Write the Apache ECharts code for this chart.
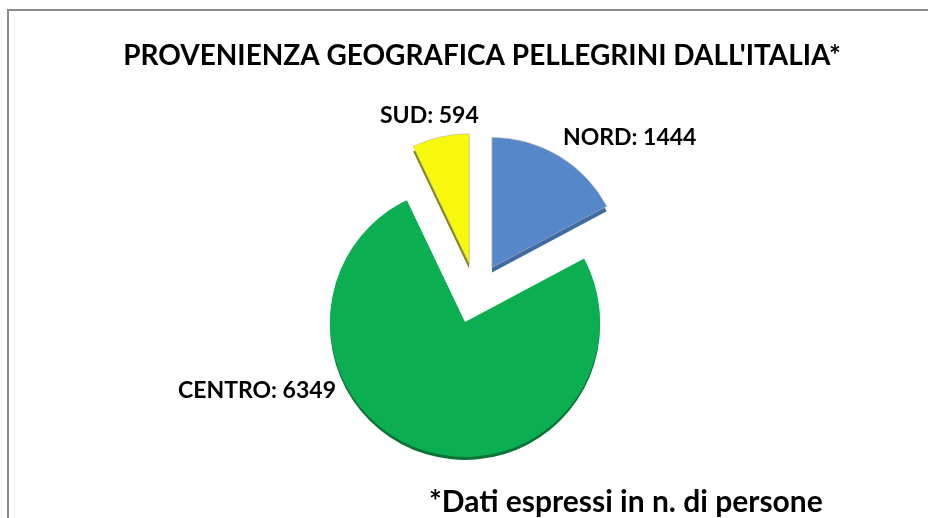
<!DOCTYPE html>
<html>
<head>
<meta charset="utf-8">
<style>
    html, body { margin: 0; padding: 0; background: #fff; }
    #main { width: 928px; height: 518px; }
</style>
<script src="https://cdn.jsdelivr.net/npm/echarts@6/dist/echarts.min.js"></script>
</head>
<body>
<div id="main"></div>
<script>
var categories = ['NORD', 'CENTRO', 'SUD'];
var values = [1444, 6349, 594];
var topColors = ['#5587ca', '#0bae50', '#f8f80c'];
var rimColors = ['#3f6aa3', '#0a7436', '#85850a'];

var fontName = 'Lato';
// posizioni delle etichette
var labelPos = [
    { x: 563, y: 138 },
    { x: 178, y: 391 },
    { x: 380, y: 116 }
];

// una serie per gruppo: le fette non in gruppo restano trasparenti
function slices(colors, group, border) {
    return categories.map(function (name, i) {
        var on = group.indexOf(i) >= 0;
        return {
            name: name,
            value: values[i],
            selected: on && group.length > 1,
            itemStyle: {
                color: on ? colors[i] : 'transparent',
                borderColor: on && border ? border : 'transparent',
                borderWidth: on && border ? 0.6 : 0
            }
        };
    });
}

function pie(center, r, offset, colors, group, border, z) {
    return {
        type: 'pie',
        silent: true,
        z: z,
        center: center,
        radius: [0, r],
        startAngle: 90,
        selectedMode: 'multiple',
        selectedOffset: offset,
        label: { show: false },
        labelLine: { show: false },
        data: slices(colors, group, border)
    };
}

var labelGraphics = categories.map(function (name, i) {
    return {
        type: 'text',
        x: labelPos[i].x,
        y: labelPos[i].y,
        z: 10,
        style: {
            text: name + ': ' + values[i],
            fontFamily: fontName,
            fontWeight: 'bold',
            fontSize: 23,
            fill: '#000',
            verticalAlign: 'middle'
        }
    };
});

var chart = echarts.init(document.getElementById('main'), null, { renderer: 'canvas' });
chart.setOption({
    animation: false,
    title: {
        text: "PROVENIENZA GEOGRAFICA PELLEGRINI DALL'ITALIA*",
        left: 477,
        top: 37,
        textAlign: 'center',
        textStyle: { fontFamily: fontName, fontWeight: 'bold', fontSize: 28, color: '#000' }
    },
    graphic: [
        { type: 'polyline', shape: { points: [[8, 518], [8, 10], [928, 10]] }, style: { fill: null, stroke: '#8c8c8c', lineWidth: 2 } },
        {
            type: 'text', x: 429, y: 502,
            style: { text: '*Dati espressi in n. di persone', fontFamily: fontName, fontWeight: 'bold', fontSize: 30, fill: '#000', verticalAlign: 'middle' }
        }
    ].concat(labelGraphics),
    series: [
        pie([465, 325], 135, 0, rimColors, [1], null, 1),
        pie([465, 322], 135, 0, topColors, [1], null, 2),
        pie([476, 299], 130, 31, rimColors, [0, 2], null, 3),
        pie([476, 294], 130, 31, topColors, [0, 2], '#b5b5a8', 4)
    ]
});
</script>
</body>
</html>
